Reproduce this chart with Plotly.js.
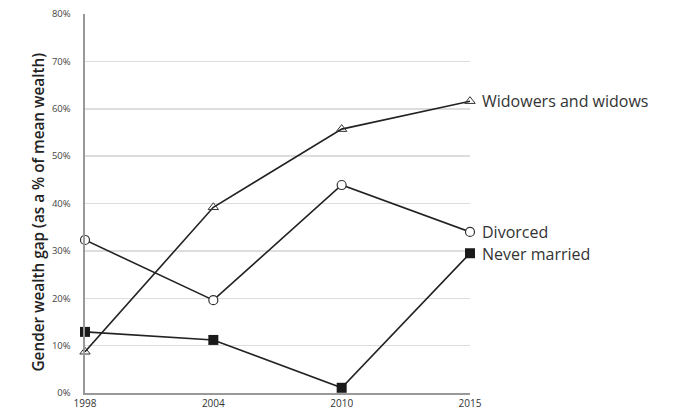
<!DOCTYPE html>
<html><head><meta charset="utf-8">
<script src="https://cdn.plot.ly/plotly-3.0.1.min.js"></script>
<style>html,body{margin:0;padding:0;background:#fff}</style>
</head><body><div id="chart" style="width:680px;height:419px"></div>
<script>
const years = ['1998','2004','2010','2015'];
const widowed = [8.7, 39.2, 55.7, 61.6];
const divorced = [32.3, 19.6, 43.9, 34.0];
const neverMarried = [12.9, 11.2, 1.1, 29.5];
const seriesNames = ['Widowers and widows','Divorced','Never married'];
const yTicks = [0,10,20,30,40,50,60,70,80];
const yTitle = 'Gender wealth gap (as a % of mean wealth)';

const FONT = 'Open Sans, Liberation Sans, sans-serif';
const lineStyle = {color:'#222', width:1.6};
const traces = [
  {x:years, y:widowed, name:seriesNames[0], mode:'lines+markers', line:lineStyle,
   marker:{symbol:'triangle-up-open', size:9, color:'#333', line:{width:1}}, cliponaxis:false},
  {x:years, y:divorced, name:seriesNames[1], mode:'lines+markers', line:lineStyle,
   marker:{symbol:'circle', size:9, color:'#fff', line:{color:'#333', width:1.2}}, cliponaxis:false},
  {x:years, y:neverMarried, name:seriesNames[2], mode:'lines+markers', line:lineStyle,
   marker:{symbol:'square', size:10, color:'#1a1a1a'}, cliponaxis:false}
];
const series = [widowed, divorced, neverMarried];
const annotations = seriesNames.map((n,i)=>({
  xref:'paper', x:1, y:series[i][series[i].length-1], yref:'y',
  text:n, showarrow:false, xanchor:'left', xshift:10, yshift:(i===2?-1:0),
  font:{family:FONT, size:16, color:'#333'}
}));
annotations.push({
  xref:'paper', yref:'paper', x:0, y:0.5, xanchor:'center', yanchor:'middle',
  xshift:-48, yshift:-9, textangle:-90, showarrow:false, text:yTitle,
  font:{family:FONT, size:15.3, color:'#222', weight:600}
});
const layout = {
  width:680, height:419,
  margin:{l:85, r:210, t:14, b:26},
  paper_bgcolor:'#fff', plot_bgcolor:'#fff',
  showlegend:false,
  xaxis:{type:'category', range:[0,3], showgrid:false, zeroline:false,
    showline:true, linecolor:'#999', linewidth:2,
    tickfont:{family:FONT, size:10, color:'#333'},
    ticks:'', automargin:false},
  yaxis:{range:[0,80], tickvals:yTicks, ticktext:yTicks.map(v=>v+'%'),
    showgrid:true, gridcolor:'#ddd', gridwidth:1.5, zeroline:false,
    showline:true, linecolor:'#999', linewidth:2.5,
    ticks:'outside', ticklen:10, tickcolor:'rgba(0,0,0,0)',
    tickfont:{family:FONT, size:9.5, color:'#444'},
    automargin:false},
  annotations:annotations
};
Plotly.newPlot('chart', traces, layout, {displayModeBar:false, staticPlot:true});
</script></body></html>
